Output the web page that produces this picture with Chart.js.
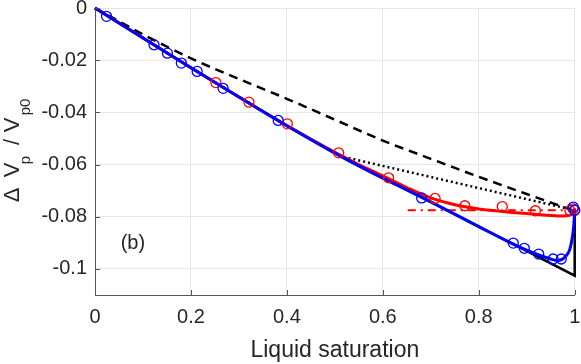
<!DOCTYPE html>
<html>
<head>
<meta charset="utf-8">
<script src="https://cdn.jsdelivr.net/npm/chart.js@4.4.0/dist/chart.umd.min.js"></script>
<style>
  html, body { margin: 0; padding: 0; background: #fff; }
</style>
</head>
<body>
<canvas id="graficoSaturacao" width="581" height="364"></canvas>
<script>
// eixos
const xTicks = [0, 0.2, 0.4, 0.6, 0.8, 1];
const yTicks = [0, -0.02, -0.04, -0.06, -0.08, -0.1];
const xTitle = 'Liquid saturation';
const painelLabel = '(b)';

// linha azul (solida)
const azulX = [0, 0.1, 0.2, 0.3, 0.4, 0.5, 0.55, 0.6, 0.65, 0.7, 0.8, 0.87, 0.9, 0.95, 0.965, 0.98, 0.99, 0.995, 0.998, 1];
const azulY = [0, -0.0115, -0.0229, -0.0341, -0.0451, -0.0556, -0.0605, -0.0652, -0.0697, -0.0743, -0.0838, -0.0903, -0.0928, -0.0962, -0.0968, -0.0954, -0.0924, -0.088, -0.0835, -0.0775];

// linha vermelha (solida)
const vermX = [0, 0.1, 0.2, 0.3, 0.4, 0.5, 0.55, 0.6, 0.65, 0.7, 0.75, 0.8, 0.85, 0.9, 0.95, 0.98, 0.995, 1];
const vermY = [0, -0.0115, -0.0229, -0.0341, -0.0451, -0.0553, -0.06, -0.0643, -0.0688, -0.0728, -0.0754, -0.077, -0.078, -0.0788, -0.0795, -0.0797, -0.079, -0.0772];

// linha preta (solida)
const pretaX = [0, 0.1, 0.2, 0.3, 0.4, 0.5, 0.55, 0.6, 0.65, 0.7, 0.8, 0.87, 1, 1];
const pretaY = [0, -0.0115, -0.0229, -0.0341, -0.0451, -0.0556, -0.0605, -0.0652, -0.0697, -0.0743, -0.0838, -0.0903, -0.1026, -0.0768];

// preta tracejada
const tracejX = [0, 0.1, 0.2, 0.3, 0.4, 0.5, 0.6, 0.7, 0.8, 0.9, 1];
const tracejY = [0, -0.0101, -0.0193, -0.0272, -0.0348, -0.0428, -0.0508, -0.0578, -0.0647, -0.0713, -0.0778];

// preta pontilhada
const pontX = [0, 0.2, 0.4, 0.51, 1];
const pontY = [0, -0.0229, -0.0451, -0.0567, -0.0775];

// vermelha traço-ponto
const tracoPontoX = [0.652, 1];
const tracoPontoY = [-0.0775, -0.0775];

// circulos
const circVermX = [0.252, 0.321, 0.401, 0.508, 0.612, 0.709, 0.771, 0.849, 0.918, 0.99, 0.997, 1];
const circVermY = [-0.0286, -0.0361, -0.0444, -0.0555, -0.0651, -0.073, -0.0758, -0.0761, -0.0777, -0.0776, -0.077, -0.0775];
const circAzulX = [0.024, 0.123, 0.151, 0.18, 0.213, 0.267, 0.382, 0.681, 0.872, 0.895, 0.925, 0.955, 0.972, 0.997, 1];
const circAzulY = [-0.0032, -0.0141, -0.0173, -0.0211, -0.0243, -0.0308, -0.0431, -0.0728, -0.0901, -0.0921, -0.0943, -0.0962, -0.0962, -0.0763, -0.0775];

function pares(xs, ys) {
    return xs.map(function(x, i) { return { x: x, y: ys[i] }; });
}

function rotuloTick(v) {
    return String(+v.toFixed(2));
}

const corTexto = '#262626';
const corEixo = '#555555';
const fonte = '"Liberation Sans", Arial, sans-serif';

// titulo do eixo y com subscritos, "(b)" e ticks internos
const textoExtra = {
    id: 'textoExtra',
    afterDraw(chart) {
        const ctx = chart.ctx;
        const area = chart.chartArea;
        const sx = chart.scales.x;
        const sy = chart.scales.y;
        ctx.save();

        // ticks para dentro (estilo matlab)
        ctx.strokeStyle = corEixo;
        ctx.lineWidth = 1;
        ctx.beginPath();
        yTicks.forEach(function(v) {
            const py = Math.round(sy.getPixelForValue(v)) + 0.5;
            ctx.moveTo(area.left, py);
            ctx.lineTo(area.left + 5, py);
        });
        xTicks.forEach(function(v) {
            const px = Math.round(sx.getPixelForValue(v)) + 0.5;
            ctx.moveTo(px, area.bottom);
            ctx.lineTo(px, area.bottom - 5);
        });
        ctx.stroke();

        ctx.fillStyle = corTexto;

        // titulo x
        ctx.font = '23px ' + fonte;
        ctx.textAlign = 'center';
        ctx.textBaseline = 'alphabetic';
        ctx.fillText(xTitle, (area.left + area.right) / 2, 357);

        // rotulo (b)
        ctx.font = '20px ' + fonte;
        ctx.textBaseline = 'middle';
        ctx.fillText(painelLabel, sx.getPixelForValue(0.079), sy.getPixelForValue(-0.0903));

        // titulo y: Δ V_p / V_p0
        const partes = [
            { t: 'Δ', c: 195, sub: false },
            { t: 'V', c: 170, sub: false },
            { t: 'p', c: 160, sub: true },
            { t: '/', c: 142, sub: false },
            { t: 'V', c: 125, sub: false },
            { t: 'p0', c: 107, sub: true }
        ];
        ctx.textBaseline = 'alphabetic';
        partes.forEach(function(p) {
            ctx.save();
            ctx.translate(p.sub ? 30 : 19, p.c);
            ctx.rotate(-Math.PI / 2);
            ctx.font = (p.sub ? '15px ' : '22px ') + fonte;
            ctx.fillText(p.t, 0, 0);
            ctx.restore();
        });

        ctx.restore();
    }
};

const data = {
    datasets: [
        {
            label: 'circ azul',
            data: pares(circAzulX, circAzulY),
            showLine: false,
            pointStyle: 'circle',
            pointRadius: 5,
            pointBorderWidth: 1.3,
            pointBorderColor: 'rgb(0, 0, 255)',
            pointBackgroundColor: 'rgba(0, 0, 0, 0)',
            clip: false,
            order: 1
        },
        {
            label: 'circ vermelho',
            data: pares(circVermX, circVermY),
            showLine: false,
            pointRadius: 5,
            pointBorderWidth: 1.3,
            pointBorderColor: 'rgb(255, 0, 0)',
            pointBackgroundColor: 'rgba(0, 0, 0, 0)',
            clip: false,
            order: 2
        },
        {
            label: 'azul',
            data: pares(azulX, azulY),
            showLine: true,
            borderColor: 'rgb(0, 0, 255)',
            borderWidth: 3,
            pointRadius: 0,
            cubicInterpolationMode: 'monotone',
            clip: false,
            order: 3
        },
        {
            label: 'vermelho',
            data: pares(vermX, vermY),
            showLine: true,
            borderColor: 'rgb(255, 0, 0)',
            borderWidth: 3,
            pointRadius: 0,
            cubicInterpolationMode: 'monotone',
            clip: false,
            order: 4
        },
        {
            label: 'preta',
            data: pares(pretaX, pretaY),
            showLine: true,
            borderColor: '#000',
            borderWidth: 2.5,
            pointRadius: 0,
            tension: 0,
            clip: false,
            order: 5
        },
        {
            label: 'traco ponto',
            data: pares(tracoPontoX, tracoPontoY),
            showLine: true,
            borderColor: 'rgb(255, 0, 0)',
            borderWidth: 2,
            borderDash: [8, 5, 2, 5],
            pointRadius: 0,
            clip: false,
            order: 6
        },
        {
            label: 'pontilhada',
            data: pares(pontX, pontY),
            showLine: true,
            borderColor: '#000',
            borderWidth: 2.5,
            borderDash: [2, 3],
            pointRadius: 0,
            clip: false,
            order: 7
        },
        {
            label: 'tracejada',
            data: pares(tracejX, tracejY),
            showLine: true,
            borderColor: '#000',
            borderWidth: 2.5,
            borderDash: [9, 6],
            pointRadius: 0,
            cubicInterpolationMode: 'monotone',
            clip: false,
            order: 8
        }
    ]
};

const config = {
    type: 'scatter',
    data: data,
    options: {
        responsive: false,
        animation: false,
        devicePixelRatio: 1,
        layout: {
            padding: 0
        },
        plugins: {
            legend: { display: false },
            tooltip: { enabled: false }
        },
        scales: {
            x: {
                type: 'linear',
                min: 0,
                max: 1,
                afterBuildTicks: function(scale) {
                    scale.ticks = xTicks.map(function(v) { return { value: v }; });
                },
                afterFit: function(scale) {
                    scale.height = 69;
                    scale.paddingLeft = 0;
                    scale.paddingRight = 6;
                },
                grid: {
                    color: '#e6e6e6',
                    drawTicks: false
                },
                border: { color: corEixo, width: 1 },
                ticks: {
                    color: corTexto,
                    padding: 12,
                    maxRotation: 0,
                    font: { family: fonte, size: 20, lineHeight: 1 },
                    callback: rotuloTick
                }
            },
            y: {
                type: 'linear',
                min: -0.11,
                max: 0,
                afterBuildTicks: function(scale) {
                    scale.ticks = yTicks.map(function(v) { return { value: v }; });
                },
                afterFit: function(scale) {
                    scale.width = 95;
                    scale.paddingTop = 8;
                    scale.paddingBottom = 0;
                },
                grid: {
                    color: '#e6e6e6',
                    drawTicks: false
                },
                border: { color: corEixo, width: 1 },
                ticks: {
                    color: corTexto,
                    padding: 8,
                    font: { family: fonte, size: 20 },
                    callback: rotuloTick
                }
            }
        }
    },
    plugins: [textoExtra]
};

let graficoSaturacao = new Chart(document.getElementById('graficoSaturacao'), config);
</script>
</body>
</html>
